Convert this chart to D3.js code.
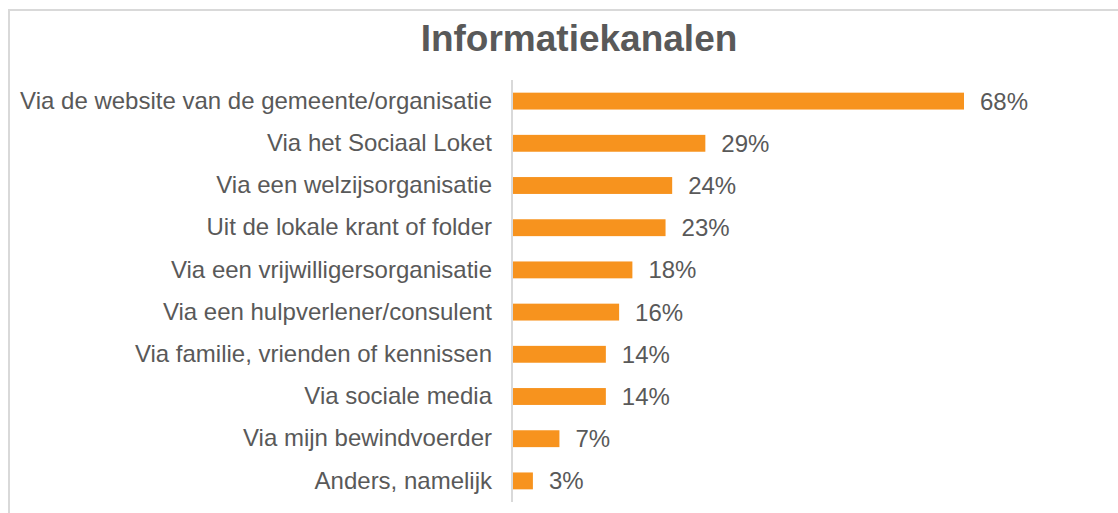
<html>
<head>
  <script src="https://d3js.org/d3.v7.min.js"></script>
  <style>
    body { margin: 0; background: #ffffff; }
    text { font-family: "Liberation Sans", Arial, sans-serif; fill: #595959; }
  </style>
</head>
<body>
<div id="chart"></div>
<script>
  // data
  var categories = [
    "Via de website van de gemeente/organisatie",
    "Via het Sociaal Loket",
    "Via een welzijsorganisatie",
    "Uit de lokale krant of folder",
    "Via een vrijwilligersorganisatie",
    "Via een hulpverlener/consulent",
    "Via familie, vrienden of kennissen",
    "Via sociale media",
    "Via mijn bewindvoerder",
    "Anders, namelijk"
  ];
  var values = [68, 29, 24, 23, 18, 16, 14, 14, 7, 3];
  var title = "Informatiekanalen";

  var W = 1118, H = 513;

  var svg = d3.select("#chart")
    .append("svg")
    .attr("width", W)
    .attr("height", H);

  // outer frame (right and bottom fall outside the picture)
  svg.append("rect")
    .attr("x", 9)
    .attr("y", 10)
    .attr("width", 1300)
    .attr("height", 800)
    .style("fill", "none")
    .style("stroke", "#d9d9d9")
    .style("stroke-width", 2);

  svg.append("text")
    .attr("x", 579)
    .attr("y", 51)
    .style("text-anchor", "middle")
    .style("font-weight", "bold")
    .style("font-size", "37px")
    .text(title);

  var x = d3.scaleLinear()
    .domain([0, 68])
    .range([513, 964]);

  var y = d3.scaleBand()
    .domain(categories)
    .range([80, 502])
    .paddingInner(0.6)
    .paddingOuter(0.3);

  // bars
  svg.append("g")
    .selectAll("rect")
    .data(values)
    .enter()
    .append("rect")
    .attr("x", x(0))
    .attr("y", function (d, i) { return y(categories[i]); })
    .attr("width", function (d) { return x(d) - x(0); })
    .attr("height", y.bandwidth())
    .style("fill", "#f7931e");

  // category axis
  var yAxis = svg.append("g")
    .attr("transform", "translate(" + 512 + ",0)")
    .call(d3.axisLeft(y).tickSize(0).tickPadding(20));
  yAxis.select(".domain").attr("stroke", "#d9d9d9").attr("stroke-width", 2)
    .attr("d", "M0,80V502");
  yAxis.selectAll("text")
    .style("font-size", "24px")
    .style("font-family", "Liberation Sans, Arial, sans-serif")
    .attr("fill", "#595959");

  // value labels
  svg.append("g")
    .selectAll("text")
    .data(values)
    .enter()
    .append("text")
    .attr("x", function (d) { return x(d) + 16; })
    .attr("y", function (d, i) { return y(categories[i]) + y.bandwidth() / 2; })
    .attr("dy", "0.35em")
    .style("font-size", "24px")
    .text(function (d) { return d + "%"; });
</script>
</body>
</html>
